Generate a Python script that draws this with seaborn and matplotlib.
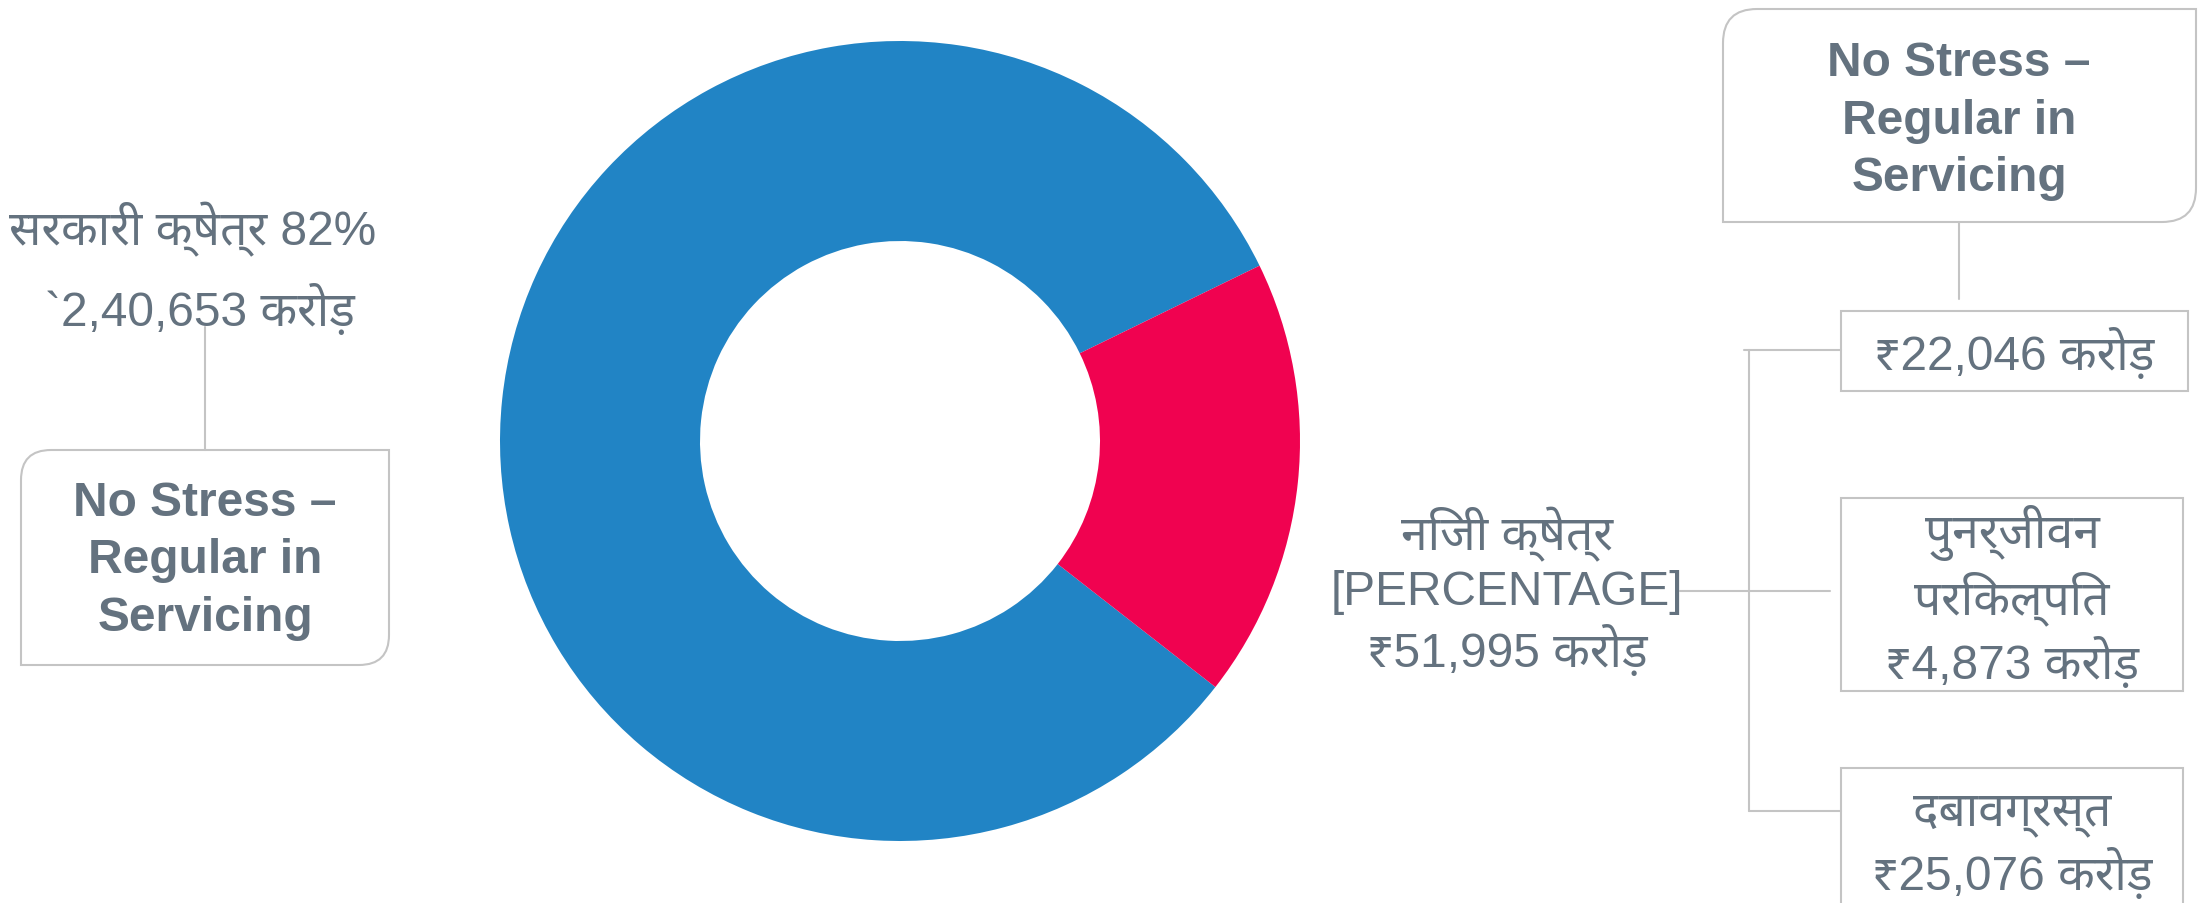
import matplotlib
matplotlib.use("Agg")
import matplotlib.pyplot as plt
import seaborn as sns
from matplotlib import font_manager
from matplotlib.path import Path
from matplotlib.patches import PathPatch, Rectangle

# Data
sector_labels = ["सरकारी क्षेत्र", "निजी क्षेत्र"]
sector_amounts = [240653, 51995]          # in crore
sector_colors = ["#2184C5", "#F00250"]
private_labels = ["No Stress –\nRegular in\nServicing", "पुनर्जीवन\nपरिकल्पित", "दबावग्रस्त"]
private_amounts = [22046, 4873, 25076]    # in crore
unit = "करोड़"

sns.set_theme(style="white")

# pick a Devanagari family that is installed
installed = {f.name for f in font_manager.fontManager.ttflist}
deva = next((n for n in ["Noto Sans Devanagari", "Hind", "Mukta", "Poppins", "FreeSans"]
             if n in installed), None)
plt.rcParams["font.family"] = ["Liberation Sans"] + ([deva] if deva else []) + ["DejaVu Sans"]

text_color = "#64727F"
line_color = "#C4C4C4"


def indian(n):
    s = str(n)
    if len(s) <= 3:
        return s
    head, tail = s[:-3], s[-3:]
    parts = []
    while len(head) > 2:
        parts.insert(0, head[-2:])
        head = head[:-2]
    if head:
        parts.insert(0, head)
    return ",".join(parts + [tail])


def diag_box(ax, x0, y0, x1, y1, r=32):
    # rectangle with top-left and bottom-right corners rounded (y axis points down)
    verts = [(x0, y0 + r), (x0, y0), (x0 + r, y0), (x1, y0), (x1, y1 - r),
             (x1, y1), (x1 - r, y1), (x0, y1), (x0, y0 + r)]
    codes = [Path.MOVETO, Path.CURVE3, Path.CURVE3, Path.LINETO, Path.LINETO,
             Path.CURVE3, Path.CURVE3, Path.LINETO, Path.CLOSEPOLY]
    ax.add_patch(PathPatch(Path(verts, codes), facecolor="white", edgecolor=line_color, lw=1.5))


def plain_box(ax, x0, y0, x1, y1):
    ax.add_patch(Rectangle((x0, y0), x1 - x0, y1 - y0, facecolor="white",
                           edgecolor=line_color, lw=1.5))


W, H = 2204, 904
fig = plt.figure(figsize=(W / 100, H / 100), dpi=100)

# overlay axes in pixel coordinates for the annotations
ax = fig.add_axes([0, 0, 1, 1])
ax.set_xlim(0, W)
ax.set_ylim(H, 0)
ax.axis("off")

# donut
pie_ax = fig.add_axes([(900 - 400) / W, (H - 442 - 400) / H, 800 / W, 800 / H])
pie_ax.pie(sector_amounts, colors=sector_colors, startangle=26, counterclock=True,
           wedgeprops=dict(width=0.5, edgecolor="none"))
pie_ax.set_aspect("equal")
pie_ax.set_xlim(-1, 1)
pie_ax.set_ylim(-1, 1)
pie_ax.axis("off")

total = sum(sector_amounts)
reg = dict(color=text_color, fontsize=34.5, ha="center", va="center", linespacing=1.24)
bold = dict(color=text_color, fontsize=34.5, ha="center", va="center", fontweight="bold",
            linespacing=1.37, family=["Liberation Sans", "DejaVu Sans"])

# left side: government sector
ax.text(193, 229, f"{sector_labels[0]} {sector_amounts[0] / total:.0%}", **reg)
ax.text(200, 310, f"`{indian(sector_amounts[0])} {unit}", **reg)
ax.plot([205, 205], [328, 451], color=line_color, lw=1.5)
diag_box(ax, 21, 451, 389, 666, r=30)
ax.text(205, 561, private_labels[0], **bold)

# middle: private sector
ax.text(1507, 592, f"{sector_labels[1]}\n[PERCENTAGE]\n₹{indian(sector_amounts[1])} {unit}", **reg)

# right side tree
ax.plot([1680, 1830], [592, 592], color=line_color, lw=1.5)
ax.plot([1744, 1841], [351, 351], color=line_color, lw=1.5)
ax.plot([1749, 1749], [351, 812], color=line_color, lw=1.5)
ax.plot([1749, 1841], [812, 812], color=line_color, lw=1.5)
ax.plot([1959, 1959], [224, 300], color=line_color, lw=1.5)

diag_box(ax, 1723, 10, 2196, 223, r=34)
ax.text(1959, 121, private_labels[0], **bold)

plain_box(ax, 1841, 312, 2188, 392)
ax.text(2014, 354, f"₹{indian(private_amounts[0])} {unit}", **reg)

plain_box(ax, 1841, 499, 2183, 692)
ax.text(2012, 597, f"{private_labels[1]}\n₹{indian(private_amounts[1])} {unit}", **reg)

plain_box(ax, 1841, 769, 2183, 930)
ax.text(2012, 846, f"{private_labels[2]}\n₹{indian(private_amounts[2])} {unit}", **reg)

fig.savefig("out.png", dpi=100, facecolor="white")
